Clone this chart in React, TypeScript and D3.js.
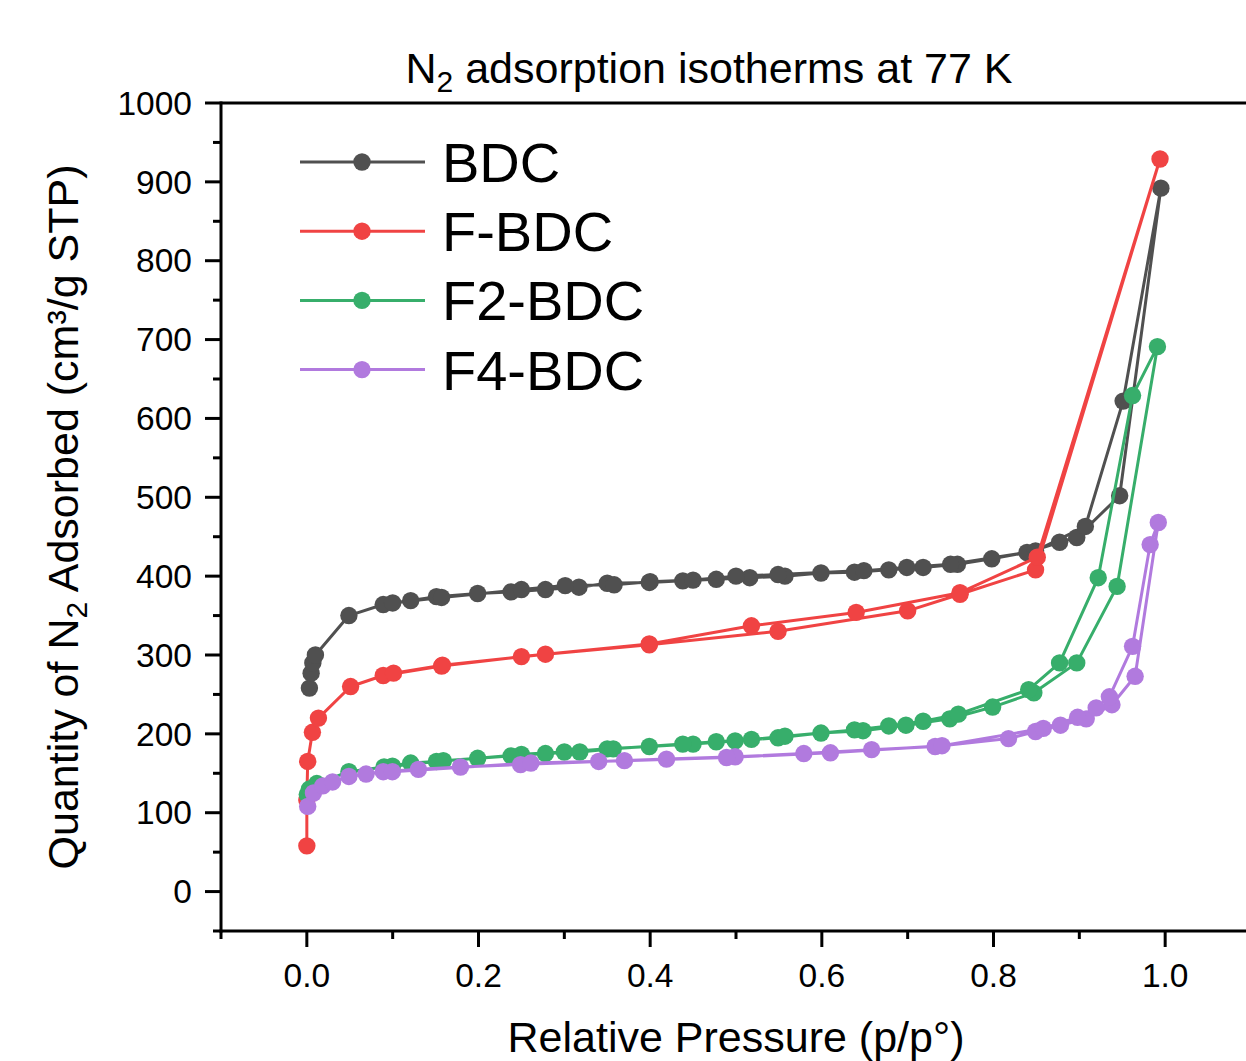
import React from "react";
import * as d3 from "d3";

// ---- data (p/p°, cm³/g STP) ----
const bdcAds: [number, number][] = [
  [0.003, 258], [0.005, 277], [0.007, 290], [0.010, 300], [0.049, 350], [0.089, 364],
  [0.121, 369], [0.151, 374], [0.199, 378], [0.238, 380], [0.278, 383], [0.317, 386],
  [0.350, 391], [0.399, 392], [0.438, 394], [0.477, 396], [0.516, 398], [0.557, 400],
  [0.599, 404], [0.638, 405], [0.678, 408], [0.718, 411], [0.758, 415], [0.798, 422],
  [0.839, 430], [0.877, 443], [0.897, 449], [0.947, 502], [0.995, 892],
];
const bdcDes: [number, number][] = [
  [0.995, 892], [0.951, 622], [0.907, 463], [0.849, 432], [0.750, 415], [0.699, 411],
  [0.649, 407], [0.549, 402], [0.500, 400], [0.450, 395], [0.400, 393], [0.358, 389],
  [0.301, 388], [0.250, 383], [0.157, 373], [0.100, 366],
];
const fbdcAds: [number, number][] = [
  [0.000, 58], [0.000, 116], [0.001, 165], [0.0065, 202], [0.0135, 220], [0.051, 260],
  [0.089, 274], [0.157, 286], [0.250, 298], [0.399, 313], [0.549, 330], [0.700, 356],
  [0.761, 377], [0.849, 408], [0.994, 929],
];
const fbdcDes: [number, number][] = [
  [0.994, 929], [0.851, 424], [0.761, 379], [0.640, 354], [0.518, 337], [0.399, 314],
  [0.278, 301], [0.158, 287], [0.101, 277],
];
const f2Ads: [number, number][] = [
  [0.0005, 123], [0.003, 130], [0.0116, 137], [0.049, 152], [0.090, 158], [0.121, 163],
  [0.151, 165], [0.199, 169], [0.250, 174], [0.300, 177], [0.350, 181], [0.399, 184],
  [0.450, 187], [0.499, 191], [0.549, 195], [0.599, 201], [0.648, 204], [0.698, 211],
  [0.749, 219], [0.799, 234], [0.847, 252], [0.897, 290], [0.944, 387], [0.991, 691],
];
const f2Des: [number, number][] = [
  [0.991, 691], [0.962, 629], [0.922, 398], [0.877, 290], [0.841, 256], [0.759, 225],
  [0.718, 216], [0.678, 210], [0.638, 205], [0.557, 197], [0.518, 193], [0.477, 190],
  [0.438, 187], [0.357, 181], [0.318, 177], [0.278, 175], [0.238, 172], [0.159, 166],
  [0.0997, 159],
];
const f4Ads: [number, number][] = [
  [0.001, 108], [0.0077, 125], [0.0186, 134], [0.030, 139], [0.049, 146], [0.069, 149],
  [0.089, 152], [0.130, 155], [0.179, 158], [0.249, 161], [0.340, 165], [0.419, 168],
  [0.499, 171], [0.579, 175], [0.658, 180], [0.732, 184], [0.8175, 194], [0.849, 203],
  [0.878, 211], [0.908, 219], [0.938, 237], [0.965, 273], [0.992, 468],
];
const f4Des: [number, number][] = [
  [0.992, 468], [0.9825, 440], [0.962, 311], [0.935, 247], [0.9196, 233], [0.898, 221],
  [0.858, 207], [0.740, 185], [0.610, 176], [0.489, 170], [0.370, 166], [0.261, 163],
  [0.0997, 152],
];

const seriesNames = ["BDC", "F-BDC", "F2-BDC", "F4-BDC"];
const seriesColors = ["#505050", "#f04343", "#37ae6b", "#b17ade"];
const seriesData = [
  [bdcAds, bdcDes],
  [fbdcAds, fbdcDes],
  [f2Ads, f2Des],
  [f4Ads, f4Des],
];

const xMajorTicks = [0, 0.2, 0.4, 0.6, 0.8, 1.0];
const xMinorTicks = [-0.1, 0.1, 0.3, 0.5, 0.7, 0.9];
const yMajorTicks = [0, 100, 200, 300, 400, 500, 600, 700, 800, 900, 1000];
const yMinorTicks = [-50, 50, 150, 250, 350, 450, 550, 650, 750, 850, 950];

const W = 1246;
const H = 1061;
const FONT = "'Liberation Sans', Arial, Helvetica, sans-serif";

export default function App() {
  const x = d3.scaleLinear().domain([-0.1, 1.1]).range([221, 1251]);
  const y = d3.scaleLinear().domain([-50, 1000]).range([931, 103]);
  const line = d3
    .line<[number, number]>()
    .x((d) => x(d[0]))
    .y((d) => y(d[1]));

  const left = x(-0.1);
  const bottom = y(-50);
  const top = y(1000);

  return (
    <svg
      width={W}
      height={H}
      style={{ position: "absolute", left: 0, top: 0, background: "#fff" }}
      fontFamily={FONT}
    >
      <rect x={0} y={0} width={W} height={H} fill="#fff" />

      {/* series */}
      {seriesData.map(([ads, des], i) => {
        const pts = [...ads, ...des.slice(1)];
        return (
          <g key={seriesNames[i]}>
            <path d={line(pts) || ""} fill="none" stroke={seriesColors[i]} strokeWidth={3} strokeLinejoin="round" />
            {pts.map((d, j) => (
              <circle key={j} cx={x(d[0])} cy={y(d[1])} r={8.7} fill={seriesColors[i]} />
            ))}
          </g>
        );
      })}

      {/* axes frame */}
      <line x1={left} x2={W} y1={top} y2={top} stroke="#000" strokeWidth={3} />
      <line x1={left} x2={left} y1={top - 1.5} y2={bottom + 1.5} stroke="#000" strokeWidth={3} />
      <line x1={left - 1.5} x2={W} y1={bottom} y2={bottom} stroke="#000" strokeWidth={3} />

      {/* y ticks */}
      {yMajorTicks.map((t) => (
        <g key={"ym" + t}>
          <line x1={left - 16} x2={left} y1={y(t)} y2={y(t)} stroke="#000" strokeWidth={3} />
          <text x={192} y={y(t)} dy="0.35em" textAnchor="end" fontSize={33.5} fill="#000">
            {t}
          </text>
        </g>
      ))}
      {yMinorTicks.map((t) => (
        <line key={"yn" + t} x1={left - 8} x2={left} y1={y(t)} y2={y(t)} stroke="#000" strokeWidth={3} />
      ))}

      {/* x ticks */}
      {xMajorTicks.map((t) => (
        <g key={"xm" + t}>
          <line x1={x(t)} x2={x(t)} y1={bottom} y2={bottom + 16} stroke="#000" strokeWidth={3} />
          <text x={x(t)} y={987} textAnchor="middle" fontSize={33.5} fill="#000">
            {d3.format(".1f")(t)}
          </text>
        </g>
      ))}
      {xMinorTicks.map((t) => (
        <line key={"xn" + t} x1={x(t)} x2={x(t)} y1={bottom} y2={bottom + 8} stroke="#000" strokeWidth={3} />
      ))}

      {/* axis titles */}
      <text x={736} y={1052} textAnchor="middle" fontSize={43} fill="#000">
        Relative Pressure (p/p°)
      </text>
      <text transform="translate(78,517) rotate(-90)" textAnchor="middle" fontSize={43} fill="#000">
        Quantity of N
        <tspan fontSize={30} dy={9}>2</tspan>
        <tspan dy={-9}> Adsorbed (cm³/g STP)</tspan>
      </text>

      {/* title */}
      <text x={709} y={83} textAnchor="middle" fontSize={43} fill="#000">
        N
        <tspan fontSize={30} dy={9}>2</tspan>
        <tspan dy={-9}> adsorption isotherms at 77 K</tspan>
      </text>

      {/* legend */}
      {seriesNames.map((name, i) => {
        const ly = 162 + i * 69.2;
        return (
          <g key={"lg" + name}>
            <line x1={300} x2={425} y1={ly} y2={ly} stroke={seriesColors[i]} strokeWidth={3} />
            <circle cx={362} cy={ly} r={8.7} fill={seriesColors[i]} />
            <text x={442} y={ly + 20} fontSize={56} fill="#000">
              {name}
            </text>
          </g>
        );
      })}
    </svg>
  );
}
